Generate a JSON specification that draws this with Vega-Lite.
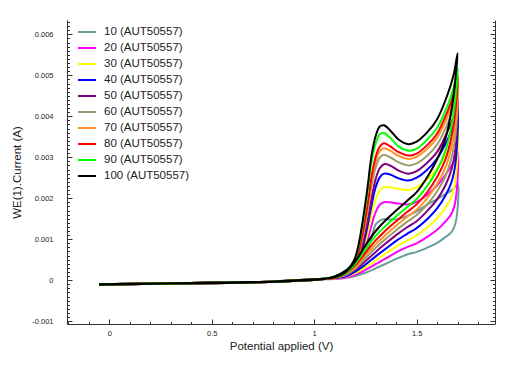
{
"$schema":"https://vega.github.io/schema/vega-lite/v6.json",
"width":428,"height":304,
"autosize":"none",
"padding":{"left":67,"top":20,"right":18,"bottom":42},
"background":"white",
"config":{"view":{"stroke":null},"font":"Liberation Sans","axis":{"labelFont":"Liberation Sans","titleFont":"Liberation Sans","titleFontWeight":"normal","labelColor":"#222","titleColor":"#222","domainColor":"#333","tickColor":"#333","grid":false}},
"data":{"values":[
{"n":10,"v":-0.05,"c":-0.00011},{"n":10,"v":0.3,"c":-0.00008},{"n":10,"v":0.7,"c":-0.00006},{"n":10,"v":0.95,"c":-0.00001},{"n":10,"v":1.05,"c":0.00003},
{"n":10,"v":1.1,"c":0.00003},{"n":10,"v":1.15,"c":0.00007},{"n":10,"v":1.18,"c":0.00012},{"n":10,"v":1.2,"c":0.00018},{"n":10,"v":1.22,"c":0.0003},{"n":10,"v":1.24,"c":0.00049},{"n":10,"v":1.26,"c":0.00075},{"n":10,"v":1.28,"c":0.00104},{"n":10,"v":1.3,"c":0.00136},{"n":10,"v":1.32,"c":0.00145},{"n":10,"v":1.34,"c":0.00149},{"n":10,"v":1.37,"c":0.00148},{"n":10,"v":1.41,"c":0.00149},{"n":10,"v":1.46,"c":0.00158},{"n":10,"v":1.5,"c":0.00168},{"n":10,"v":1.55,"c":0.00184},{"n":10,"v":1.6,"c":0.00198},{"n":10,"v":1.65,"c":0.00213},{"n":10,"v":1.68,"c":0.00223},{"n":10,"v":1.7,"c":0.00235},
{"n":10,"v":1.69,"c":0.0014},{"n":10,"v":1.67,"c":0.00117},{"n":10,"v":1.64,"c":0.00105},{"n":10,"v":1.6,"c":0.00091},{"n":10,"v":1.55,"c":0.00079},{"n":10,"v":1.5,"c":0.00069},{"n":10,"v":1.45,"c":0.00062},{"n":10,"v":1.4,"c":0.00052},{"n":10,"v":1.35,"c":0.0004},{"n":10,"v":1.3,"c":0.00029},{"n":10,"v":1.25,"c":0.00018},{"n":10,"v":1.2,"c":0.0001},{"n":10,"v":1.15,"c":0.00005},{"n":10,"v":1.1,"c":0.00003},
{"n":10,"v":1.0,"c":0.00002},{"n":10,"v":0.8,"c":-0.00003},{"n":10,"v":0.5,"c":-0.00006},{"n":10,"v":0.2,"c":-0.00008},{"n":10,"v":-0.05,"c":-0.0001},

{"n":20,"v":-0.05,"c":-0.00011},{"n":20,"v":0.3,"c":-0.00008},{"n":20,"v":0.7,"c":-0.00006},{"n":20,"v":0.95,"c":-0.00001},{"n":20,"v":1.05,"c":0.00003},
{"n":20,"v":1.1,"c":0.00003},{"n":20,"v":1.15,"c":0.00009},{"n":20,"v":1.18,"c":0.00016},{"n":20,"v":1.2,"c":0.00023},{"n":20,"v":1.22,"c":0.00038},{"n":20,"v":1.24,"c":0.00063},{"n":20,"v":1.26,"c":0.00096},{"n":20,"v":1.28,"c":0.00134},{"n":20,"v":1.3,"c":0.00166},{"n":20,"v":1.32,"c":0.00184},{"n":20,"v":1.34,"c":0.0019},{"n":20,"v":1.37,"c":0.0019},{"n":20,"v":1.41,"c":0.00187},{"n":20,"v":1.46,"c":0.00185},{"n":20,"v":1.5,"c":0.00191},{"n":20,"v":1.55,"c":0.00208},{"n":20,"v":1.6,"c":0.00231},{"n":20,"v":1.65,"c":0.00264},{"n":20,"v":1.68,"c":0.00288},{"n":20,"v":1.7,"c":0.00314},
{"n":20,"v":1.69,"c":0.00195},{"n":20,"v":1.67,"c":0.00162},{"n":20,"v":1.64,"c":0.00143},{"n":20,"v":1.6,"c":0.00123},{"n":20,"v":1.55,"c":0.00105},{"n":20,"v":1.5,"c":0.0009},{"n":20,"v":1.45,"c":0.0008},{"n":20,"v":1.4,"c":0.00068},{"n":20,"v":1.35,"c":0.00053},{"n":20,"v":1.3,"c":0.00039},{"n":20,"v":1.25,"c":0.00025},{"n":20,"v":1.2,"c":0.00013},{"n":20,"v":1.15,"c":0.00006},{"n":20,"v":1.1,"c":0.00004},
{"n":20,"v":1.0,"c":0.00002},{"n":20,"v":0.8,"c":-0.00003},{"n":20,"v":0.5,"c":-0.00006},{"n":20,"v":0.2,"c":-0.00008},{"n":20,"v":-0.05,"c":-0.0001},

{"n":30,"v":-0.05,"c":-0.00011},{"n":30,"v":0.3,"c":-0.00008},{"n":30,"v":0.7,"c":-0.00006},{"n":30,"v":0.95,"c":-0.00001},{"n":30,"v":1.05,"c":0.00003},
{"n":30,"v":1.1,"c":0.00004},{"n":30,"v":1.15,"c":0.0001},{"n":30,"v":1.18,"c":0.00019},{"n":30,"v":1.2,"c":0.00027},{"n":30,"v":1.22,"c":0.00045},{"n":30,"v":1.24,"c":0.00075},{"n":30,"v":1.26,"c":0.00114},{"n":30,"v":1.28,"c":0.0016},{"n":30,"v":1.3,"c":0.00198},{"n":30,"v":1.32,"c":0.00219},{"n":30,"v":1.34,"c":0.00227},{"n":30,"v":1.37,"c":0.00227},{"n":30,"v":1.41,"c":0.00223},{"n":30,"v":1.46,"c":0.0022},{"n":30,"v":1.5,"c":0.00227},{"n":30,"v":1.55,"c":0.00245},{"n":30,"v":1.6,"c":0.00272},{"n":30,"v":1.65,"c":0.00313},{"n":30,"v":1.68,"c":0.00344},{"n":30,"v":1.7,"c":0.00377},
{"n":30,"v":1.69,"c":0.00247},{"n":30,"v":1.67,"c":0.00204},{"n":30,"v":1.64,"c":0.00177},{"n":30,"v":1.6,"c":0.00151},{"n":30,"v":1.55,"c":0.00128},{"n":30,"v":1.5,"c":0.00109},{"n":30,"v":1.45,"c":0.00096},{"n":30,"v":1.4,"c":0.00082},{"n":30,"v":1.35,"c":0.00065},{"n":30,"v":1.3,"c":0.00048},{"n":30,"v":1.25,"c":0.00031},{"n":30,"v":1.2,"c":0.00017},{"n":30,"v":1.15,"c":0.00008},{"n":30,"v":1.1,"c":0.00005},
{"n":30,"v":1.0,"c":0.00002},{"n":30,"v":0.8,"c":-0.00003},{"n":30,"v":0.5,"c":-0.00006},{"n":30,"v":0.2,"c":-0.00008},{"n":30,"v":-0.05,"c":-0.0001},

{"n":40,"v":-0.05,"c":-0.00011},{"n":40,"v":0.3,"c":-0.00008},{"n":40,"v":0.7,"c":-0.00006},{"n":40,"v":0.95,"c":-0.00001},{"n":40,"v":1.05,"c":0.00003},
{"n":40,"v":1.1,"c":0.00005},{"n":40,"v":1.15,"c":0.00012},{"n":40,"v":1.18,"c":0.00022},{"n":40,"v":1.2,"c":0.00031},{"n":40,"v":1.22,"c":0.00052},{"n":40,"v":1.24,"c":0.00086},{"n":40,"v":1.26,"c":0.00131},{"n":40,"v":1.28,"c":0.00183},{"n":40,"v":1.3,"c":0.00227},{"n":40,"v":1.32,"c":0.00251},{"n":40,"v":1.34,"c":0.0026},{"n":40,"v":1.37,"c":0.00258},{"n":40,"v":1.41,"c":0.00249},{"n":40,"v":1.46,"c":0.00243},{"n":40,"v":1.5,"c":0.0025},{"n":40,"v":1.55,"c":0.00269},{"n":40,"v":1.6,"c":0.00297},{"n":40,"v":1.65,"c":0.00342},{"n":40,"v":1.68,"c":0.00378},{"n":40,"v":1.7,"c":0.00416},
{"n":40,"v":1.69,"c":0.00288},{"n":40,"v":1.67,"c":0.00239},{"n":40,"v":1.64,"c":0.00206},{"n":40,"v":1.6,"c":0.00175},{"n":40,"v":1.55,"c":0.00148},{"n":40,"v":1.5,"c":0.00127},{"n":40,"v":1.45,"c":0.00112},{"n":40,"v":1.4,"c":0.00096},{"n":40,"v":1.35,"c":0.00077},{"n":40,"v":1.3,"c":0.00058},{"n":40,"v":1.25,"c":0.00038},{"n":40,"v":1.2,"c":0.00021},{"n":40,"v":1.15,"c":0.00009},{"n":40,"v":1.1,"c":0.00005},
{"n":40,"v":1.0,"c":0.00002},{"n":40,"v":0.8,"c":-0.00003},{"n":40,"v":0.5,"c":-0.00006},{"n":40,"v":0.2,"c":-0.00008},{"n":40,"v":-0.05,"c":-0.0001},

{"n":50,"v":-0.05,"c":-0.00011},{"n":50,"v":0.3,"c":-0.00008},{"n":50,"v":0.7,"c":-0.00006},{"n":50,"v":0.95,"c":-0.00001},{"n":50,"v":1.05,"c":0.00003},
{"n":50,"v":1.1,"c":0.00005},{"n":50,"v":1.15,"c":0.00013},{"n":50,"v":1.18,"c":0.00024},{"n":50,"v":1.2,"c":0.00034},{"n":50,"v":1.22,"c":0.00056},{"n":50,"v":1.24,"c":0.00094},{"n":50,"v":1.26,"c":0.00142},{"n":50,"v":1.28,"c":0.00199},{"n":50,"v":1.3,"c":0.00247},{"n":50,"v":1.32,"c":0.00273},{"n":50,"v":1.34,"c":0.00283},{"n":50,"v":1.37,"c":0.0028},{"n":50,"v":1.41,"c":0.00268},{"n":50,"v":1.46,"c":0.0026},{"n":50,"v":1.5,"c":0.00266},{"n":50,"v":1.55,"c":0.00286},{"n":50,"v":1.6,"c":0.00313},{"n":50,"v":1.65,"c":0.00362},{"n":50,"v":1.68,"c":0.004},{"n":50,"v":1.7,"c":0.00442},
{"n":50,"v":1.69,"c":0.00323},{"n":50,"v":1.67,"c":0.0027},{"n":50,"v":1.64,"c":0.00231},{"n":50,"v":1.6,"c":0.00197},{"n":50,"v":1.55,"c":0.00168},{"n":50,"v":1.5,"c":0.00144},{"n":50,"v":1.45,"c":0.00128},{"n":50,"v":1.4,"c":0.0011},{"n":50,"v":1.35,"c":0.0009},{"n":50,"v":1.3,"c":0.00069},{"n":50,"v":1.25,"c":0.00046},{"n":50,"v":1.2,"c":0.00025},{"n":50,"v":1.15,"c":0.00011},{"n":50,"v":1.1,"c":0.00006},
{"n":50,"v":1.0,"c":0.00002},{"n":50,"v":0.8,"c":-0.00003},{"n":50,"v":0.5,"c":-0.00006},{"n":50,"v":0.2,"c":-0.00008},{"n":50,"v":-0.05,"c":-0.0001},

{"n":60,"v":-0.05,"c":-0.00011},{"n":60,"v":0.3,"c":-0.00008},{"n":60,"v":0.7,"c":-0.00006},{"n":60,"v":0.95,"c":-0.00001},{"n":60,"v":1.05,"c":0.00003},
{"n":60,"v":1.1,"c":0.00006},{"n":60,"v":1.15,"c":0.00016},{"n":60,"v":1.18,"c":0.00027},{"n":60,"v":1.2,"c":0.00041},{"n":60,"v":1.22,"c":0.00069},{"n":60,"v":1.24,"c":0.00113},{"n":60,"v":1.26,"c":0.00168},{"n":60,"v":1.28,"c":0.00231},{"n":60,"v":1.3,"c":0.00275},{"n":60,"v":1.32,"c":0.00299},{"n":60,"v":1.34,"c":0.00306},{"n":60,"v":1.37,"c":0.003},{"n":60,"v":1.41,"c":0.00288},{"n":60,"v":1.46,"c":0.0028},{"n":60,"v":1.5,"c":0.00285},{"n":60,"v":1.55,"c":0.00303},{"n":60,"v":1.6,"c":0.00331},{"n":60,"v":1.65,"c":0.00381},{"n":60,"v":1.68,"c":0.00421},{"n":60,"v":1.7,"c":0.00466},
{"n":60,"v":1.69,"c":0.00357},{"n":60,"v":1.67,"c":0.00298},{"n":60,"v":1.64,"c":0.00253},{"n":60,"v":1.6,"c":0.00217},{"n":60,"v":1.55,"c":0.00184},{"n":60,"v":1.5,"c":0.00159},{"n":60,"v":1.45,"c":0.00141},{"n":60,"v":1.4,"c":0.00122},{"n":60,"v":1.35,"c":0.00101},{"n":60,"v":1.3,"c":0.00079},{"n":60,"v":1.25,"c":0.00053},{"n":60,"v":1.2,"c":0.00028},{"n":60,"v":1.15,"c":0.00012},{"n":60,"v":1.1,"c":0.00006},
{"n":60,"v":1.0,"c":0.00002},{"n":60,"v":0.8,"c":-0.00003},{"n":60,"v":0.5,"c":-0.00006},{"n":60,"v":0.2,"c":-0.00008},{"n":60,"v":-0.05,"c":-0.0001},

{"n":70,"v":-0.05,"c":-0.00011},{"n":70,"v":0.3,"c":-0.00008},{"n":70,"v":0.7,"c":-0.00006},{"n":70,"v":0.95,"c":-0.00001},{"n":70,"v":1.05,"c":0.00003},
{"n":70,"v":1.1,"c":0.00007},{"n":70,"v":1.15,"c":0.00017},{"n":70,"v":1.18,"c":0.00029},{"n":70,"v":1.2,"c":0.00043},{"n":70,"v":1.22,"c":0.00072},{"n":70,"v":1.24,"c":0.00119},{"n":70,"v":1.26,"c":0.00176},{"n":70,"v":1.28,"c":0.00243},{"n":70,"v":1.3,"c":0.0029},{"n":70,"v":1.32,"c":0.00315},{"n":70,"v":1.34,"c":0.00322},{"n":70,"v":1.37,"c":0.00316},{"n":70,"v":1.41,"c":0.00304},{"n":70,"v":1.46,"c":0.00296},{"n":70,"v":1.5,"c":0.00301},{"n":70,"v":1.55,"c":0.0032},{"n":70,"v":1.6,"c":0.00348},{"n":70,"v":1.65,"c":0.00398},{"n":70,"v":1.68,"c":0.00439},{"n":70,"v":1.7,"c":0.00485},
{"n":70,"v":1.69,"c":0.00388},{"n":70,"v":1.67,"c":0.00325},{"n":70,"v":1.64,"c":0.00274},{"n":70,"v":1.6,"c":0.00235},{"n":70,"v":1.55,"c":0.00199},{"n":70,"v":1.5,"c":0.00172},{"n":70,"v":1.45,"c":0.00153},{"n":70,"v":1.4,"c":0.00133},{"n":70,"v":1.35,"c":0.00111},{"n":70,"v":1.3,"c":0.00088},{"n":70,"v":1.25,"c":0.0006},{"n":70,"v":1.2,"c":0.00032},{"n":70,"v":1.15,"c":0.00014},{"n":70,"v":1.1,"c":0.00006},
{"n":70,"v":1.0,"c":0.00002},{"n":70,"v":0.8,"c":-0.00003},{"n":70,"v":0.5,"c":-0.00006},{"n":70,"v":0.2,"c":-0.00008},{"n":70,"v":-0.05,"c":-0.0001},

{"n":80,"v":-0.05,"c":-0.00011},{"n":80,"v":0.3,"c":-0.00008},{"n":80,"v":0.7,"c":-0.00006},{"n":80,"v":0.95,"c":-0.00001},{"n":80,"v":1.05,"c":0.00003},
{"n":80,"v":1.1,"c":0.00007},{"n":80,"v":1.15,"c":0.00017},{"n":80,"v":1.18,"c":0.0003},{"n":80,"v":1.2,"c":0.00044},{"n":80,"v":1.22,"c":0.00075},{"n":80,"v":1.24,"c":0.00124},{"n":80,"v":1.26,"c":0.00183},{"n":80,"v":1.28,"c":0.00252},{"n":80,"v":1.3,"c":0.00301},{"n":80,"v":1.32,"c":0.00326},{"n":80,"v":1.34,"c":0.00334},{"n":80,"v":1.37,"c":0.00327},{"n":80,"v":1.41,"c":0.00313},{"n":80,"v":1.46,"c":0.00304},{"n":80,"v":1.5,"c":0.00309},{"n":80,"v":1.55,"c":0.00329},{"n":80,"v":1.6,"c":0.00358},{"n":80,"v":1.65,"c":0.00411},{"n":80,"v":1.68,"c":0.00453},{"n":80,"v":1.7,"c":0.00501},
{"n":80,"v":1.69,"c":0.00417},{"n":80,"v":1.67,"c":0.0035},{"n":80,"v":1.64,"c":0.00294},{"n":80,"v":1.6,"c":0.00252},{"n":80,"v":1.55,"c":0.00214},{"n":80,"v":1.5,"c":0.00185},{"n":80,"v":1.45,"c":0.00165},{"n":80,"v":1.4,"c":0.00144},{"n":80,"v":1.35,"c":0.00122},{"n":80,"v":1.3,"c":0.00097},{"n":80,"v":1.25,"c":0.00067},{"n":80,"v":1.2,"c":0.00036},{"n":80,"v":1.15,"c":0.00015},{"n":80,"v":1.1,"c":0.00006},
{"n":80,"v":1.0,"c":0.00002},{"n":80,"v":0.8,"c":-0.00003},{"n":80,"v":0.5,"c":-0.00006},{"n":80,"v":0.2,"c":-0.00008},{"n":80,"v":-0.05,"c":-0.0001},

{"n":90,"v":-0.05,"c":-0.00011},{"n":90,"v":0.3,"c":-0.00008},{"n":90,"v":0.7,"c":-0.00006},{"n":90,"v":0.95,"c":-0.00001},{"n":90,"v":1.05,"c":0.00003},
{"n":90,"v":1.1,"c":0.00009},{"n":90,"v":1.15,"c":0.00021},{"n":90,"v":1.18,"c":0.00034},{"n":90,"v":1.2,"c":0.00052},{"n":90,"v":1.22,"c":0.0009},{"n":90,"v":1.24,"c":0.00147},{"n":90,"v":1.26,"c":0.00214},{"n":90,"v":1.28,"c":0.0029},{"n":90,"v":1.3,"c":0.00334},{"n":90,"v":1.32,"c":0.00356},{"n":90,"v":1.34,"c":0.00359},{"n":90,"v":1.37,"c":0.00348},{"n":90,"v":1.41,"c":0.00327},{"n":90,"v":1.46,"c":0.00316},{"n":90,"v":1.5,"c":0.00321},{"n":90,"v":1.55,"c":0.00342},{"n":90,"v":1.6,"c":0.00372},{"n":90,"v":1.65,"c":0.00425},{"n":90,"v":1.68,"c":0.00469},{"n":90,"v":1.7,"c":0.00518},
{"n":90,"v":1.69,"c":0.00448},{"n":90,"v":1.67,"c":0.00376},{"n":90,"v":1.64,"c":0.00315},{"n":90,"v":1.6,"c":0.00269},{"n":90,"v":1.55,"c":0.00229},{"n":90,"v":1.5,"c":0.00198},{"n":90,"v":1.45,"c":0.00177},{"n":90,"v":1.4,"c":0.00156},{"n":90,"v":1.35,"c":0.00133},{"n":90,"v":1.3,"c":0.00108},{"n":90,"v":1.25,"c":0.00075},{"n":90,"v":1.2,"c":0.0004},{"n":90,"v":1.15,"c":0.00016},{"n":90,"v":1.1,"c":0.00007},
{"n":90,"v":1.0,"c":0.00002},{"n":90,"v":0.8,"c":-0.00003},{"n":90,"v":0.5,"c":-0.00006},{"n":90,"v":0.2,"c":-0.00008},{"n":90,"v":-0.05,"c":-0.0001},

{"n":100,"v":-0.05,"c":-0.00011},{"n":100,"v":0.3,"c":-0.00008},{"n":100,"v":0.7,"c":-0.00006},{"n":100,"v":0.95,"c":-0.00001},{"n":100,"v":1.05,"c":0.00003},
{"n":100,"v":1.1,"c":0.00009},{"n":100,"v":1.15,"c":0.00022},{"n":100,"v":1.18,"c":0.00036},{"n":100,"v":1.2,"c":0.00055},{"n":100,"v":1.22,"c":0.00095},{"n":100,"v":1.24,"c":0.00155},{"n":100,"v":1.26,"c":0.00225},{"n":100,"v":1.28,"c":0.00305},{"n":100,"v":1.3,"c":0.00352},{"n":100,"v":1.32,"c":0.00375},{"n":100,"v":1.34,"c":0.00378},{"n":100,"v":1.37,"c":0.00366},{"n":100,"v":1.41,"c":0.00344},{"n":100,"v":1.46,"c":0.00332},{"n":100,"v":1.5,"c":0.00338},{"n":100,"v":1.55,"c":0.0036},{"n":100,"v":1.6,"c":0.00393},{"n":100,"v":1.65,"c":0.00452},{"n":100,"v":1.68,"c":0.005},{"n":100,"v":1.7,"c":0.00554},
{"n":100,"v":1.69,"c":0.00495},{"n":100,"v":1.67,"c":0.00415},{"n":100,"v":1.64,"c":0.00345},{"n":100,"v":1.6,"c":0.00295},{"n":100,"v":1.55,"c":0.0025},{"n":100,"v":1.5,"c":0.00215},{"n":100,"v":1.45,"c":0.00192},{"n":100,"v":1.4,"c":0.0017},{"n":100,"v":1.35,"c":0.00147},{"n":100,"v":1.3,"c":0.0012},{"n":100,"v":1.25,"c":0.00085},{"n":100,"v":1.2,"c":0.00045},{"n":100,"v":1.15,"c":0.00018},{"n":100,"v":1.1,"c":0.00007},
{"n":100,"v":1.0,"c":0.00002},{"n":100,"v":0.8,"c":-0.00003},{"n":100,"v":0.5,"c":-0.00006},{"n":100,"v":0.2,"c":-0.00008},{"n":100,"v":-0.05,"c":-0.0001}
]},
"resolve":{"axis":{"x":"independent","y":"independent"}},
"layer":[
{"mark":{"type":"point","opacity":0},
 "encoding":{
  "x":{"field":"v","type":"quantitative","scale":{"domain":[-0.2065,1.8824],"nice":false,"zero":false},
   "axis":{"orient":"bottom","values":[-0.2,-0.1,0.1,0.2,0.3,0.4,0.6,0.7,0.8,0.9,1.1,1.2,1.3,1.4,1.6,1.7,1.8],"tickSize":-2.5,"labels":false,"domain":false,"title":null}},
  "y":{"field":"c","type":"quantitative","scale":{"domain":[-0.00107,0.00635],"nice":false,"zero":false},
   "axis":{"orient":"left","values":[-0.0009,-0.0008,-0.0007,-0.0006,-0.0005,-0.0004,-0.0003,-0.0002,-0.0001,0.0001,0.0002,0.0003,0.0004,0.0005,0.0006,0.0007,0.0008,0.0009,0.0011,0.0012,0.0013,0.0014,0.0015,0.0016,0.0017,0.0018,0.0019,0.0021,0.0022,0.0023,0.0024,0.0025,0.0026,0.0027,0.0028,0.0029,0.0031,0.0032,0.0033,0.0034,0.0035,0.0036,0.0037,0.0038,0.0039,0.0041,0.0042,0.0043,0.0044,0.0045,0.0046,0.0047,0.0048,0.0049,0.0051,0.0052,0.0053,0.0054,0.0055,0.0056,0.0057,0.0058,0.0059,0.0061,0.0062,0.0063],"tickSize":-2.5,"labels":false,"domain":false,"title":null}}
 }},
{"mark":{"type":"point","opacity":0},
 "encoding":{
  "x":{"field":"v","type":"quantitative","axis":null},
  "y":{"field":"c","type":"quantitative",
   "axis":{"orient":"right","values":[-0.001,0,0.001,0.002,0.003,0.004,0.005,0.006],"tickSize":-5,"labels":false,"domain":true,"title":null}}
 }},
{"mark":{"type":"point","opacity":0},
 "encoding":{
  "x":{"field":"v","type":"quantitative","axis":null},
  "y":{"field":"c","type":"quantitative",
   "axis":{"orient":"right","values":[-0.0009,-0.0008,-0.0007,-0.0006,-0.0005,-0.0004,-0.0003,-0.0002,-0.0001,0.0001,0.0002,0.0003,0.0004,0.0005,0.0006,0.0007,0.0008,0.0009,0.0011,0.0012,0.0013,0.0014,0.0015,0.0016,0.0017,0.0018,0.0019,0.0021,0.0022,0.0023,0.0024,0.0025,0.0026,0.0027,0.0028,0.0029,0.0031,0.0032,0.0033,0.0034,0.0035,0.0036,0.0037,0.0038,0.0039,0.0041,0.0042,0.0043,0.0044,0.0045,0.0046,0.0047,0.0048,0.0049,0.0051,0.0052,0.0053,0.0054,0.0055,0.0056,0.0057,0.0058,0.0059,0.0061,0.0062,0.0063],"tickSize":-2.5,"labels":false,"domain":false,"title":null}}
 }},
{"mark":{"type":"line","strokeWidth":2,"interpolate":"catmull-rom"},
 "encoding":{
  "x":{"field":"v","type":"quantitative",
   "axis":{"orient":"bottom","values":[0,0.5,1,1.5],"tickSize":-5,"labelExpr":"''+datum.value","labelFontSize":7.5,"labelPadding":10,"title":"Potential applied (V)","titleFontSize":11.5,"titlePadding":4}},
  "y":{"field":"c","type":"quantitative",
   "axis":{"orient":"left","values":[-0.001,0,0.001,0.002,0.003,0.004,0.005,0.006],"tickSize":-5,"labelExpr":"''+datum.value","labelFontSize":7.5,"labelPadding":19,"title":"WE(1).Current (A)","titleFontSize":11.5,"titlePadding":9}},
  "order":{"value":null},
  "color":{"field":"n","type":"nominal",
   "scale":{"domain":[10,20,30,40,50,60,70,80,90,100],"range":["#6a9c9c","#ff00ff","#ffff00","#0000ff","#800080","#9c9c6c","#ff9326","#ff0000","#00ff00","#000000"]},
   "legend":{"orient":"none","legendX":10,"legendY":4,"title":null,"padding":0,"symbolType":"stroke","symbolSize":324,"symbolStrokeWidth":2,"clipHeight":16,"rowPadding":0,"labelFontSize":11.5,"labelOffset":7,"labelColor":"#222","labelFont":"Liberation Sans","labelExpr":"datum.label + ' (AUT50557)'"}}
 }}
]
}
